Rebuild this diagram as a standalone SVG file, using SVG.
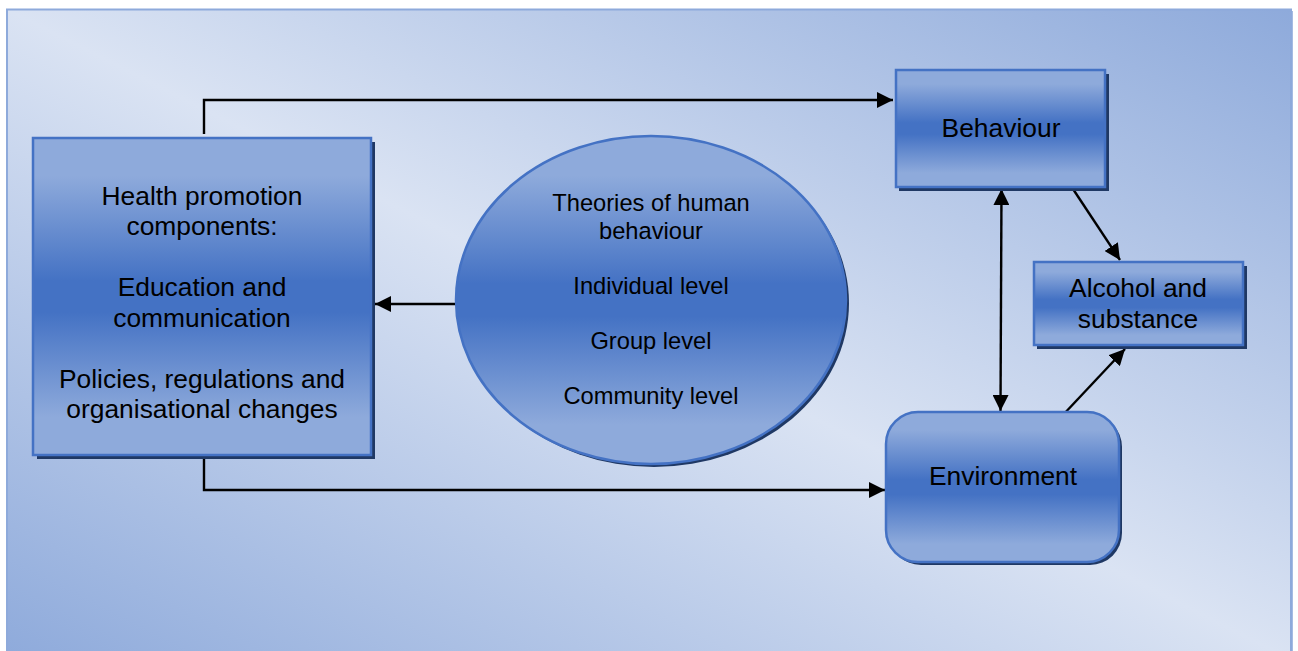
<svg xmlns="http://www.w3.org/2000/svg" width="1298" height="651" viewBox="0 0 1298 651">
  <style>
    .lbl { font-family: "Liberation Sans", Arial, sans-serif; font-size: 26.4px; fill: #000; text-anchor: middle; }
    .elbl { font-family: "Liberation Sans", Arial, sans-serif; font-size: 23.7px; fill: #000; text-anchor: middle; }
    .node { fill: url(#nodeGrad); stroke: #4472c4; stroke-width: 2.5; }
    .shadow { fill: #1f3864; }
    .conn { fill: none; stroke: #000; stroke-width: 2.4; }
  </style>
  <defs>
    <linearGradient id="bgGrad" x1="0" y1="1" x2="1" y2="0">
      <stop offset="0" stop-color="#8eaadb"/>
      <stop offset="0.5" stop-color="#dae3f3"/>
      <stop offset="1" stop-color="#8eaadb"/>
    </linearGradient>
    <linearGradient id="nodeGrad" x1="0" y1="0" x2="0" y2="1">
      <stop offset="0" stop-color="#8eaadb"/>
      <stop offset="0.12" stop-color="#8eaadb"/>
      <stop offset="0.45" stop-color="#4472c4"/>
      <stop offset="0.55" stop-color="#4472c4"/>
      <stop offset="0.88" stop-color="#8eaadb"/>
      <stop offset="1" stop-color="#8eaadb"/>
    </linearGradient>
    <marker id="arr" viewBox="0 0 15 15" refX="15" refY="7.5" markerWidth="16" markerHeight="16" markerUnits="userSpaceOnUse" orient="auto-start-reverse">
      <path d="M0,0 L15,7.5 L0,15 Z" fill="#000"/>
    </marker>
  </defs>

  <rect x="0" y="0" width="1298" height="651" fill="#ffffff"/>
  <rect x="9" y="11" width="1284" height="650" fill="#8eaadb" opacity="0.8"/>
  <rect x="7" y="9.5" width="1284" height="650" fill="url(#bgGrad)" stroke="#8eaadb" stroke-width="2"/>

  <g id="connectors">
    <polyline class="conn" points="204,134 204,100 893,100" marker-end="url(#arr)"/>
    <polyline class="conn" points="204,459 204,490 885,490" marker-end="url(#arr)"/>
    <line class="conn" x1="458" y1="304" x2="375" y2="304" marker-end="url(#arr)"/>
    <line class="conn" x1="1000.5" y1="411" x2="1001.5" y2="189" marker-start="url(#arr)" marker-end="url(#arr)"/>
    <line class="conn" x1="1073" y1="189" x2="1120" y2="260" marker-end="url(#arr)"/>
    <line class="conn" x1="1062" y1="416" x2="1125" y2="349" marker-end="url(#arr)"/>
  </g>

  <g id="health">
    <rect class="shadow" x="37" y="142" width="338" height="317"/>
    <rect class="node" x="33" y="138" width="338" height="317"/>
    <text class="lbl" x="202" y="205">Health promotion</text>
    <text class="lbl" x="202" y="235">components:</text>
    <text class="lbl" x="202" y="296">Education and</text>
    <text class="lbl" x="202" y="327">communication</text>
    <text class="lbl" x="202" y="388">Policies, regulations and</text>
    <text class="lbl" x="202" y="418">organisational changes</text>
  </g>

  <g id="theories">
    <ellipse class="shadow" cx="654" cy="303" rx="195" ry="164"/>
    <ellipse class="node" cx="651" cy="300" rx="195" ry="164"/>
    <text class="elbl" x="651" y="211">Theories of human</text>
    <text class="elbl" x="651" y="239">behaviour</text>
    <text class="elbl" x="651" y="294">Individual level</text>
    <text class="elbl" x="651" y="349">Group level</text>
    <text class="elbl" x="651" y="404">Community level</text>
  </g>

  <g id="behaviour">
    <rect class="shadow" x="899" y="74" width="210" height="117"/>
    <rect class="node" x="896" y="70" width="209" height="117"/>
    <text class="lbl" x="1001" y="137">Behaviour</text>
  </g>

  <g id="alcohol">
    <rect class="shadow" x="1037" y="266" width="210" height="83"/>
    <rect class="node" x="1034" y="262" width="209" height="83"/>
    <text class="lbl" x="1138" y="297">Alcohol and</text>
    <text class="lbl" x="1138" y="328">substance</text>
  </g>

  <g id="environment">
    <rect class="shadow" x="889" y="415" width="233" height="150" rx="32"/>
    <rect class="node" x="886" y="412" width="233" height="150" rx="32"/>
    <text class="lbl" x="1003" y="485">Environment</text>
  </g>
</svg>
